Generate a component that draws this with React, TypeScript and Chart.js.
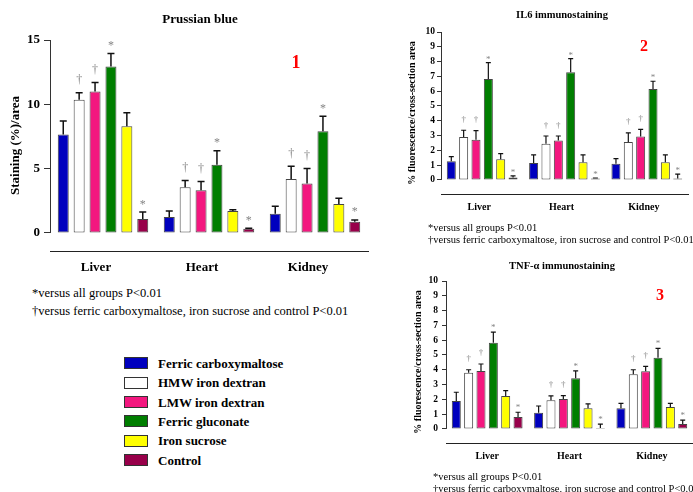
import React, { useEffect, useRef } from 'react';
import { Chart, registerables } from 'chart.js';

Chart.register(...registerables);

const FONT = "'Liberation Serif', 'Times New Roman', serif";

const categories = ['Liver', 'Heart', 'Kidney'];
const groupNames = [
  'Ferric carboxymaltose',
  'HMW iron dextran',
  'LMW iron dextran',
  'Ferric gluconate',
  'Iron sucrose',
  'Control',
];
const groupColors = ['#0000BE', '#FFFFFF', '#F3177F', '#007E00', '#FFFF00', '#98004A'];

// significance marks per group (Liver, Heart, Kidney) — same in all panels
const significance = [
  ['', '', ''],
  ['†', '†', '†'],
  ['†', '†', '†'],
  ['*', '*', '*'],
  ['', '', ''],
  ['*', '*', '*'],
];

// Panel 1: Prussian blue, staining (%)/area
const prussianMeans = [
  [7.65, 1.24, 1.5],
  [10.35, 3.55, 4.2],
  [11.0, 3.33, 3.85],
  [12.95, 5.3, 7.9],
  [8.3, 1.7, 2.25],
  [1.08, 0.32, 0.88],
];
const prussianErrors = [
  [1.05, 0.46, 0.57],
  [0.55, 0.52, 0.98],
  [0.7, 0.67, 1.17],
  [1.0, 1.1, 1.17],
  [1.05, 0.1, 0.45],
  [0.55, 0.05, 0.13],
];
const prussianTicks = [0, 5, 10, 15];

// Panel 2: IL6 immunostaining
const il6Means = [
  [1.26, 1.15, 1.1],
  [2.9, 2.45, 2.57],
  [2.72, 2.66, 2.93],
  [6.82, 7.28, 6.15],
  [1.4, 1.19, 1.19],
  [0.16, 0.09, 0.09],
];
const il6Errors = [
  [0.32, 0.54, 0.34],
  [0.46, 0.52, 0.61],
  [0.61, 0.31, 0.49],
  [1.11, 0.92, 0.52],
  [0.38, 0.5, 0.5],
  [0.12, 0.04, 0.31],
];

// Panel 3: TNF-α immunostaining
const tnfMeans = [
  [1.89, 1.1, 1.4],
  [3.8, 1.94, 3.69],
  [3.92, 2.03, 3.9],
  [5.83, 3.42, 4.82],
  [2.23, 1.4, 1.49],
  [0.81, 0.07, 0.34],
];
const tnfErrors = [
  [0.59, 0.45, 0.33],
  [0.2, 0.29, 0.31],
  [0.47, 0.22, 0.33],
  [0.72, 0.5, 0.63],
  [0.36, 0.29, 0.24],
  [0.32, 0.25, 0.25],
];
const cytokineTicks = [0, 1, 2, 3, 4, 5, 6, 7, 8, 9, 10];

const footnoteStar = '*versus all groups P<0.01';
const footnoteDagger = '†versus ferric carboxymaltose, iron sucrose and control P<0.01';

const errorBarPlugin = {
  id: 'errorBars',
  beforeDatasetsDraw(chart: any, _a: any, opts: any) {
    const { ctx, chartArea } = chart;
    const y = chart.scales.y;
    const ticks = opts.ticks as number[];
    ctx.save();
    ctx.strokeStyle = opts.axisColor;
    ctx.lineWidth = 1;
    ctx.beginPath();
    const x = Math.round(chartArea.left) + 0.5;
    ctx.moveTo(x, y.getPixelForValue(ticks[0]));
    ctx.lineTo(x, y.getPixelForValue(ticks[ticks.length - 1]));
    ctx.stroke();
    ctx.restore();
  },
  afterDatasetsDraw(chart: any, _a: any, opts: any) {
    const { ctx } = chart;
    const y = chart.scales.y;
    chart.data.datasets.forEach((ds: any, di: number) => {
      const meta = chart.getDatasetMeta(di);
      meta.data.forEach((bar: any, i: number) => {
        const v = ds.data[i];
        const e = ds.errors[i];
        const yTop = y.getPixelForValue(v);
        const yErr = y.getPixelForValue(v + e);
        ctx.save();
        ctx.strokeStyle = opts.color;
        ctx.lineWidth = opts.width;
        ctx.beginPath();
        ctx.moveTo(bar.x, yTop);
        ctx.lineTo(bar.x, yErr);
        ctx.moveTo(bar.x - opts.cap / 2, yErr);
        ctx.lineTo(bar.x + opts.cap / 2, yErr);
        ctx.stroke();
        const m = ds.marks[i];
        if (m) {
          ctx.font = `${opts.markSize}px ${FONT}`;
          ctx.fillStyle = opts.markColor;
          ctx.textAlign = 'center';
          ctx.textBaseline = 'alphabetic';
          const mt = ctx.measureText(m);
          const gap = m === '*' ? opts.starGap : opts.daggerGap;
          const cy = yErr - gap;
          const base = cy - (mt.actualBoundingBoxDescent - mt.actualBoundingBoxAscent) / 2;
          ctx.fillText(m, bar.x, base);
        }
        ctx.restore();
      });
    });
  },
};

type PanelCfg = {
  means: number[][];
  errors: number[][];
  ticks: number[];
  yMin: number;
  yTitle: string;
  padding: { top: number; right: number; bottom: number; left: number };
  yWidth: number;
  xHeight: number;
  tickLength: number;
  tickPad: number;
  yTitleSize: number;
  yTitlePad: number;
  yTickSize: number;
  xSize: number;
  xPad: number;
  labelOffset: number;
  barPct: number;
  errWidth: number;
  cap: number;
  markSize: number;
  starGap: number;
  daggerGap: number;
};

function buildConfig(p: PanelCfg): any {
  return {
    type: 'bar',
    data: {
      labels: categories,
      datasets: groupNames.map((name, gi) => ({
        label: name,
        data: p.means[gi],
        errors: p.errors[gi],
        marks: significance[gi],
        backgroundColor: groupColors[gi],
        borderColor: '#444444',
        borderWidth: 1,
        borderSkipped: false,
        categoryPercentage: 0.9,
        barPercentage: p.barPct,
      })),
    },
    options: {
      responsive: false,
      animation: false,
      devicePixelRatio: 1,
      layout: { padding: p.padding },
      plugins: {
        legend: { display: false },
        tooltip: { enabled: false },
        title: { display: false },
        errorBars: {
          color: '#111111',
          width: p.errWidth,
          cap: p.cap,
          markSize: p.markSize,
          markColor: '#858585',
          starGap: p.starGap,
          daggerGap: p.daggerGap,
          axisColor: '#333333',
          ticks: p.ticks,
        },
      },
      scales: {
        x: {
          grid: { display: false, drawTicks: false },
          border: { display: true, color: '#222222', width: 1 },
          ticks: {
            color: '#000',
            font: { family: FONT, size: p.xSize, weight: 'bold' },
            padding: p.xPad,
            labelOffset: p.labelOffset,
          },
          afterFit: (s: any) => {
            s.height = p.xHeight;
          },
        },
        y: {
          min: p.yMin,
          max: p.ticks[p.ticks.length - 1],
          afterBuildTicks: (s: any) => {
            s.ticks = p.ticks.map((v) => ({ value: v }));
          },
          afterFit: (s: any) => {
            s.width = p.yWidth;
          },
          grid: {
            display: true,
            drawOnChartArea: false,
            drawTicks: true,
            tickLength: p.tickLength,
            color: '#333333',
          },
          border: { display: false },
          ticks: {
            color: '#000',
            font: { family: FONT, size: p.yTickSize, weight: 'bold' },
            padding: p.tickPad,
          },
          title: {
            display: true,
            text: p.yTitle,
            color: '#000',
            font: { family: FONT, size: p.yTitleSize, weight: 'bold' },
            padding: { top: p.yTitlePad, bottom: 0 },
          },
        },
      },
    },
    plugins: [errorBarPlugin],
  };
}

function Panel(props: { cfg: PanelCfg; left: number; top: number; width: number; height: number }) {
  const ref = useRef<HTMLCanvasElement | null>(null);
  useEffect(() => {
    if (!ref.current) return;
    const chart = new Chart(ref.current, buildConfig(props.cfg));
    return () => chart.destroy();
  }, []);
  return (
    <canvas
      ref={ref}
      width={props.width}
      height={props.height}
      style={{ position: 'absolute', left: props.left, top: props.top, width: props.width, height: props.height }}
    />
  );
}

function Txt(props: {
  text: string;
  x: number;
  y: number;
  size: number;
  bold?: boolean;
  center?: boolean;
  color?: string;
}) {
  return (
    <div
      style={{
        position: 'absolute',
        left: props.x,
        top: props.y - props.size / 2,
        fontFamily: FONT,
        fontSize: props.size,
        lineHeight: `${props.size}px`,
        fontWeight: props.bold ? 'bold' : 'normal',
        color: props.color || '#000',
        whiteSpace: 'nowrap',
        transform: props.center ? 'translateX(-50%)' : undefined,
      }}
    >
      {props.text}
    </div>
  );
}

const panel1: PanelCfg = {
  means: prussianMeans,
  errors: prussianErrors,
  ticks: prussianTicks,
  yMin: -1.4,
  yTitle: 'Staining (%)/area',
  padding: { top: 40, right: 12, bottom: 4, left: 0 },
  yWidth: 50,
  xHeight: 30,
  tickLength: 6,
  tickPad: 4,
  yTitleSize: 13,
  yTitlePad: 8,
  yTickSize: 13,
  xSize: 13,
  xPad: 9,
  labelOffset: -7,
  barPct: 0.69,
  errWidth: 1.5,
  cap: 7,
  markSize: 12,
  starGap: 10,
  daggerGap: 13,
};

const panel2: PanelCfg = {
  means: il6Means,
  errors: il6Errors,
  ticks: cytokineTicks,
  yMin: -0.95,
  yTitle: '% fluorescence/cross-section area',
  padding: { top: 32, right: 5, bottom: 28, left: 0 },
  yWidth: 46,
  xHeight: 28,
  tickLength: 4,
  tickPad: 2,
  yTitleSize: 10,
  yTitlePad: 11,
  yTickSize: 9.5,
  xSize: 10,
  xPad: 7,
  labelOffset: -3,
  barPct: 0.73,
  errWidth: 1.2,
  cap: 5,
  markSize: 9,
  starGap: 5,
  daggerGap: 11,
};

const panel3: PanelCfg = {
  ...panel2,
  means: tnfMeans,
  errors: tnfErrors,
  padding: { top: 31, right: 0, bottom: 21, left: 0 },
  yWidth: 51,
  tickPad: 4,
  yTitlePad: 17,
  labelOffset: 0,
  starGap: 6,
  daggerGap: 11,
};

export default function App() {
  const legendRows = [363, 382.5, 402, 421, 440.5, 460];
  return (
    <div
      style={{
        position: 'fixed',
        left: 0,
        top: 0,
        width: 693,
        height: 492,
        background: '#fff',
        overflow: 'hidden',
      }}
    >
      <Panel cfg={panel1} left={0} top={0} width={380} height={285} />
      <Panel cfg={panel2} left={395} top={0} width={298} height={250} />
      <Panel cfg={panel3} left={395} top={250} width={298} height={242} />

      <Txt text="Prussian blue" x={200} y={18} size={13} bold center />
      <Txt text="1" x={296} y={62} size={18} bold center color="#FF0000" />
      <Txt text={footnoteStar} x={32} y={293} size={12.5} />
      <Txt text={footnoteDagger} x={32} y={311} size={12.5} />

      {groupNames.map((name, i) => (
        <React.Fragment key={name}>
          <div
            style={{
              position: 'absolute',
              left: 124,
              top: legendRows[i] - 6,
              width: 24,
              height: 12,
              boxSizing: 'border-box',
              border: '1px solid #333',
              background: groupColors[i],
            }}
          />
          <Txt text={name} x={158} y={legendRows[i]} size={13} bold />
        </React.Fragment>
      ))}

      <Txt text="IL6 immunostaining" x={562} y={15} size={10.5} bold center />
      <Txt text="2" x={644} y={46} size={16} bold center color="#FF0000" />
      <Txt text={footnoteStar} x={428} y={228} size={10.5} />
      <Txt text={footnoteDagger} x={428} y={240} size={10.5} />

      <Txt text="TNF-α immunostaining" x={562} y={266} size={10.5} bold center />
      <Txt text="3" x={660} y={295} size={16} bold center color="#FF0000" />
      <Txt text={footnoteStar} x={433} y={477} size={10.5} />
      <Txt text={footnoteDagger} x={433} y={489} size={10.5} />
    </div>
  );
}
